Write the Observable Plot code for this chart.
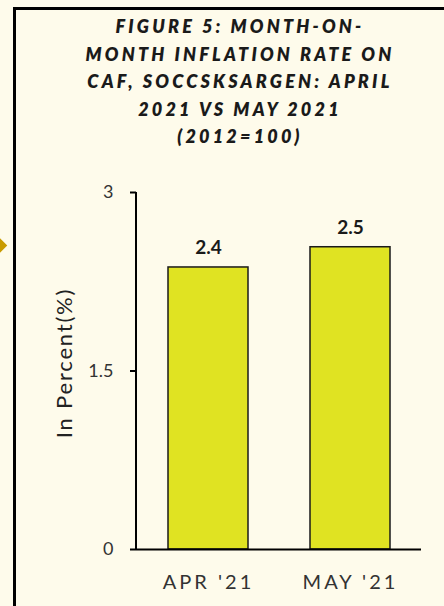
<!DOCTYPE html>
<html>
<head>
<meta charset="utf-8">
<script src="https://cdn.jsdelivr.net/npm/d3@7"></script>
<script src="https://cdn.jsdelivr.net/npm/@observablehq/plot@0.6"></script>
<style>
  html, body { margin: 0; padding: 0; width: 444px; height: 606px; overflow: hidden; background: #FEFBEB; }
  #frame { position: absolute; left: 13px; top: 7px; width: 500px; height: 700px; border-left: 3px solid #000; border-top: 3px solid #000; box-sizing: border-box; }
  #arrow { position: absolute; left: -6px; top: 240px; width: 11px; height: 11px; background: #C99B00; transform: rotate(45deg); }
  #title { position: absolute; left: 0; top: 0; width: 480px; height: 160px; text-align: center;
    font-family: Lato, "Open Sans", sans-serif; font-weight: 800; font-style: italic; font-size: 18px;
    letter-spacing: 3.2px; line-height: 27.5px; color: #1a1a1a; padding-top: 13px; box-sizing: border-box; }
  #chart { position: absolute; left: 0; top: 160px; }
  #chart g[aria-label="x-axis tick label"] text { letter-spacing: 3px; }
</style>
</head>
<body>
<div id="frame"></div>
<div id="arrow"></div>
<div id="title">FIGURE 5: MONTH-ON-<br>MONTH INFLATION RATE ON<br>CAF, SOCCSKSARGEN: APRIL<br>2021 VS MAY 2021<br>(2012=100)</div>
<div id="chart"></div>
<script>
const months = ["APR '21", "MAY '21"];
const rates = [2.37, 2.54];
const rateLabels = ["2.4", "2.5"];
const yTicks = [0, 1.5, 3];

const data = months.map((m, i) => ({month: m, rate: rates[i], label: rateLabels[i]}));

const yAxisLine = (index, scales, values, dimensions) => {
  const ns = "http://www.w3.org/2000/svg";
  const line = document.createElementNS(ns, "line");
  const x = dimensions.marginLeft;
  line.setAttribute("x1", x); line.setAttribute("x2", x);
  line.setAttribute("y1", scales.y(0)); line.setAttribute("y2", scales.y(3));
  line.setAttribute("stroke", "#000"); line.setAttribute("stroke-width", 2);
  return line;
};

const chart = Plot.plot({
  width: 444,
  height: 446,
  marginTop: 32,
  marginBottom: 57,
  marginLeft: 136,
  marginRight: 23,
  style: {background: "transparent", fontFamily: "Lato, 'Open Sans', sans-serif", fontSize: "17px", color: "#333"},
  x: {domain: months, paddingInner: 0.44, paddingOuter: 0.22, label: null},
  y: {domain: [0, 3], label: null},
  marks: [
    Plot.barY(data, {x: "month", y: "rate", fill: "#E0E322", stroke: "#1a1a1a", strokeWidth: 1.5}),
    Plot.ruleY([0], {stroke: "#000", strokeWidth: 2}),
    yAxisLine,
    Plot.axisY({ticks: yTicks, tickFormat: d => String(d), tickSize: 6, tickPadding: 17, stroke: "#000", strokeWidth: 2, strokeOpacity: 1, fill: "#333", fontSize: 18, label: null}),
    Plot.axisX({tickSize: 0, tickPadding: 25, fill: "#333", fontSize: 20, label: null}),
    Plot.text(["In Percent(%)"], {frameAnchor: "left", textAnchor: "middle", rotate: -90, dx: -72, dy: -8, fontSize: 22, fill: "#222"}),
    Plot.text(data, {x: "month", y: "rate", text: "label", lineAnchor: "bottom", dy: -13, fontWeight: "bold", fontSize: 19, fill: "#1a1a1a"})
  ]
});
chart.querySelectorAll("text").forEach(t => { if (t.textContent === "In Percent(%)") t.style.letterSpacing = "1.8px"; });
document.getElementById("chart").appendChild(chart);
</script>
</body>
</html>
